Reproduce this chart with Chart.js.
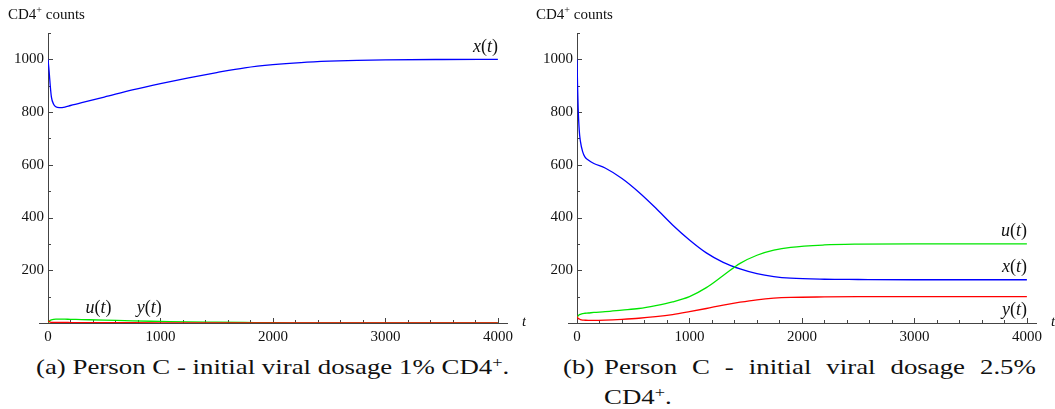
<!DOCTYPE html>
<html>
<head>
<meta charset="utf-8">
<script src="https://cdn.jsdelivr.net/npm/chart.js@4.4.1/dist/chart.umd.min.js"></script>
<style>
  body { margin: 0; background: #fff; }
  #wrap { position: relative; width: 1055px; height: 409px; overflow: hidden; font-family: "Liberation Serif", "Times New Roman", serif; color: #111; }
  canvas { position: absolute; top: 0; }
  .ytitle { position: absolute; top: 4px; font-size: 15px; white-space: nowrap; }
  .ytitle sup { font-size: 10px; }
  .cap { position: absolute; font-size: 22px; white-space: nowrap; line-height: 30px; transform: scaleX(1.22); transform-origin: 0 0; }
  .cap sup { font-size: 15px; vertical-align: 7px; line-height: 0; }
  .just { text-align: justify; text-align-last: justify; white-space: normal; }
</style>
</head>
<body>
<div id="wrap">
  <canvas id="chartA" width="526" height="345" style="left:0px"></canvas>
  <canvas id="chartB" width="526" height="345" style="left:529px"></canvas>

  <div class="ytitle" style="left:8px">CD4<sup>+</sup> counts</div>
  <div class="ytitle" style="left:536px">CD4<sup>+</sup> counts</div>

  <div class="cap" style="left:36px; top:352px">(a) Person C - initial viral dosage 1% CD4<sup>+</sup>.</div>
  <div class="cap" style="left:563px; top:352px">(b)</div>
  <div class="cap just" style="left:604px; top:352px; width:354px">Person C - initial viral dosage 2.5%</div>
  <div class="cap" style="left:604px; top:382px">CD4<sup>+</sup>.</div>
</div>

<script>
// time points (t)
const tA = [0, 10, 20, 30, 50, 70, 100, 150, 200, 300, 500, 750, 1000, 1250, 1500, 1750, 2000, 2250, 2500, 2750, 3000, 3500, 4000];
const xA = [1000, 955, 900, 858, 830, 820, 817, 819, 825, 836, 857, 884, 908, 930, 950, 968, 980, 988, 993, 996, 998, 999.5, 1000];
const uA = [2, 7, 10, 12, 14, 15, 15, 14.5, 14, 13, 11, 8, 6, 4, 3, 2, 1, 0.7, 0.5, 0.3, 0.2, 0.1, 0];
const yA = [8, 5, 3, 2.5, 2, 2, 2, 2, 1.8, 1.5, 1.2, 1, 0.8, 0.6, 0.5, 0.4, 0.3, 0.2, 0.2, 0.1, 0.1, 0, 0];

const tB = [0, 5, 10, 20, 30, 50, 70, 100, 150, 250, 400, 550, 700, 850, 1000, 1150, 1300, 1450, 1600, 1750, 1900, 2200, 2500, 3000, 3500, 4000];
const xB = [1000, 900, 820, 730, 690, 650, 630, 618, 605, 588, 548, 496, 436, 372, 315, 266, 230, 205, 187, 176, 170, 166, 165, 164, 164, 164];
const uB = [20, 24, 27, 31, 33, 36, 37, 38, 40, 43, 49, 55, 66, 80, 100, 134, 180, 226, 257, 276, 287, 296, 299, 300, 300, 300];
const yB = [25, 21, 18, 15, 13, 11, 10.5, 10, 10, 11, 14, 18, 24, 32, 43, 55, 68, 79, 88, 94, 97, 99, 100, 100, 100, 100];

const xMajorTicks = [0, 1000, 2000, 3000, 4000];
const yMajorTicks = [200, 400, 600, 800, 1000];
const X_MIN = 0, X_MAX = 4090, Y_MIN = 0, Y_MAX = 1100;
const X_AXIS_START = -80; // x axis runs a little left of the origin

const BLUE = 'rgb(0,0,255)';
const GREEN = 'rgb(0,230,0)';
const RED = 'rgb(255,0,0)';

function pts(ts, vs) {
  return ts.map((t, i) => ({ x: t, y: vs[i] }));
}

// Mathematica style axes crossing at the origin, with minor ticks
const axesPlugin = {
  id: 'mmaAxes',
  beforeDatasetsDraw(chart) {
    const { ctx, chartArea, scales: { x, y } } = chart;
    const x0 = x.getPixelForValue(0);
    const y0 = y.getPixelForValue(0);
    ctx.save();
    ctx.strokeStyle = '#444';
    ctx.lineWidth = 1;
    ctx.beginPath();
    ctx.moveTo(x.getPixelForValue(X_AXIS_START), y0 + 0.5);
    ctx.lineTo(chartArea.right, y0 + 0.5);
    ctx.moveTo(x0 + 0.5, y0);
    ctx.lineTo(x0 + 0.5, y.getPixelForValue(Y_MAX));
    for (let t = 200; t <= 4000; t += 200) {
      const px = Math.round(x.getPixelForValue(t)) + 0.5;
      const len = t % 1000 === 0 ? 5 : 3;
      ctx.moveTo(px, y0);
      ctx.lineTo(px, y0 - len);
    }
    for (let v = 100; v <= 1100; v += 100) {
      const py = Math.round(y.getPixelForValue(v)) + 0.5;
      const len = v % 200 === 0 ? 5 : 3;
      ctx.moveTo(x0, py);
      ctx.lineTo(x0 + len, py);
    }
    ctx.stroke();
    ctx.restore();
  }
};

// curve labels like x(t): italic letters, upright parentheses
function drawFnLabel(ctx, name, px, py, align) {
  const it = 'italic 18px "Liberation Serif", serif';
  const rm = '18px "Liberation Serif", serif';
  const parts = [[name, it], ['(', rm], ['t', it], [')', rm]];
  let w = 0;
  parts.forEach(([s, f]) => { ctx.font = f; w += ctx.measureText(s).width; });
  let cx = align === 'right' ? px - w : align === 'center' ? px - w / 2 : px;
  ctx.textBaseline = 'alphabetic';
  ctx.textAlign = 'left';
  parts.forEach(([s, f]) => {
    ctx.font = f;
    ctx.fillText(s, cx, py);
    cx += ctx.measureText(s).width;
  });
}

const labelPlugin = {
  id: 'fnLabels',
  afterDatasetsDraw(chart, args, opts) {
    const { ctx, chartArea, scales: { x, y } } = chart;
    ctx.save();
    ctx.fillStyle = '#111';
    (opts.items || []).forEach(l => {
      drawFnLabel(ctx, l.name, x.getPixelForValue(l.t), y.getPixelForValue(l.v) + l.dy, l.align);
    });
    ctx.font = 'italic 15px "Liberation Serif", serif';
    ctx.textAlign = 'left';
    ctx.textBaseline = 'alphabetic';
    ctx.fillText('t', chartArea.right + 14, y.getPixelForValue(0) + 3);
    ctx.restore();
  }
};

function makeChart(id, t, xs, us, ys, labels) {
  const ctx = document.getElementById(id).getContext('2d');
  return new Chart(ctx, {
    type: 'line',
    data: {
      datasets: [
        { data: pts(t, ys), borderColor: RED },
        { data: pts(t, us), borderColor: GREEN },
        { data: pts(t, xs), borderColor: BLUE }
      ]
    },
    options: {
      responsive: false,
      animation: false,
      events: [],
      parsing: false,
      elements: {
        point: { radius: 0 },
        line: { borderWidth: 1.3, cubicInterpolationMode: 'monotone', fill: false }
      },
      layout: { padding: { top: 33, right: 18, left: 0, bottom: 0 } },
      plugins: {
        legend: { display: false },
        tooltip: { enabled: false },
        fnLabels: { items: labels }
      },
      scales: {
        x: {
          type: 'linear', min: X_MIN, max: X_MAX,
          grid: { display: false, drawTicks: false },
          border: { display: false },
          afterBuildTicks: s => { s.ticks = xMajorTicks.map(v => ({ value: v })); },
          afterFit: s => { s.height = 22; },
          ticks: {
            padding: 5, color: '#111', maxRotation: 0, autoSkip: false,
            font: { family: '"Liberation Serif", serif', size: 15 },
            callback: v => String(v)
          }
        },
        y: {
          type: 'linear', min: Y_MIN, max: Y_MAX,
          grid: { display: false, drawTicks: false },
          border: { display: false },
          afterBuildTicks: s => { s.ticks = yMajorTicks.map(v => ({ value: v })); },
          afterFit: s => { s.width = 48; },
          ticks: {
            padding: 4, color: '#111', autoSkip: false,
            font: { family: '"Liberation Serif", serif', size: 15 },
            callback: v => String(v)
          }
        }
      }
    },
    plugins: [axesPlugin, labelPlugin]
  });
}

makeChart('chartA', tA, xA, uA, yA, [
  { name: 'x', t: 4000, v: 1000, dy: -7, align: 'right' },
  { name: 'u', t: 450, v: 0, dy: -10, align: 'center' },
  { name: 'y', t: 900, v: 0, dy: -10, align: 'center' }
]);

makeChart('chartB', tB, xB, uB, yB, [
  { name: 'u', t: 4000, v: 300, dy: -8, align: 'right' },
  { name: 'x', t: 4000, v: 164, dy: -8, align: 'right' },
  { name: 'y', t: 4000, v: 100, dy: 18, align: 'right' }
]);
</script>
</body>
</html>
